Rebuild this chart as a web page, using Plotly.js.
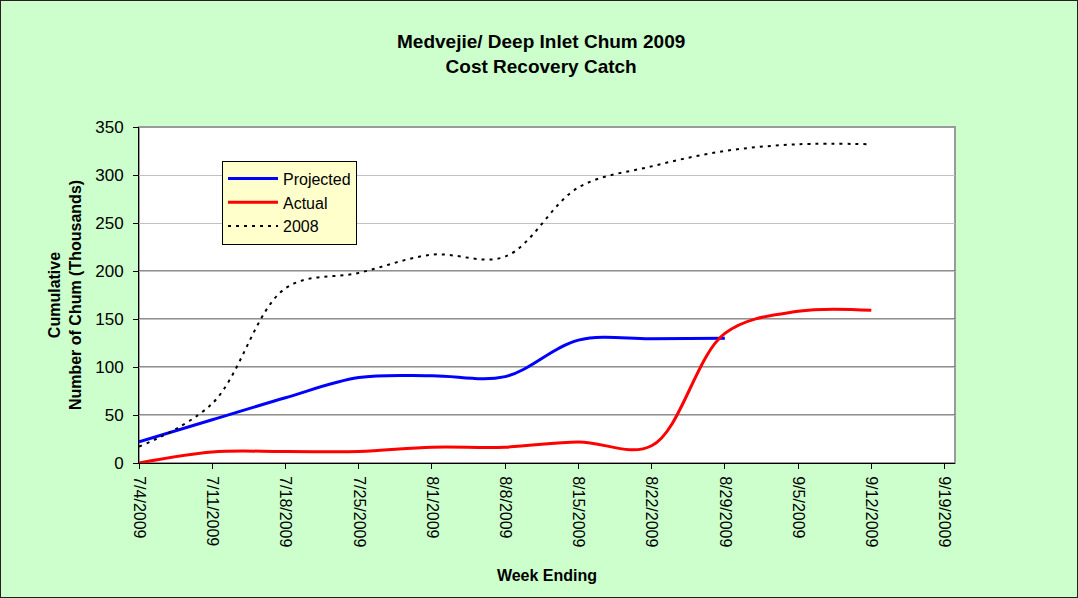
<!DOCTYPE html>
<html>
<head>
<meta charset="utf-8">
<script src="https://cdn.plot.ly/plotly-3.0.1.min.js"></script>
<style>
  html, body { margin: 0; padding: 0; background: #CCFFCC; }
  #wrap { position: relative; width: 1078px; height: 598px; }
  #chart { width: 1078px; height: 598px; }
  #frame { position: absolute; left: 0; top: 0; width: 1078px; height: 598px; box-sizing: border-box; border: 1px solid #222; pointer-events: none; }
</style>
</head>
<body>
<div id="wrap"><div id="chart"></div><div id="frame"></div></div>
<script>
// Week-ending dates
const weekEnding = ['2009-07-04','2009-07-11','2009-07-18','2009-07-25','2009-08-01','2009-08-08',
                    '2009-08-15','2009-08-22','2009-08-29','2009-09-05','2009-09-12'];
// Cumulative catch (thousands)
const projected = [22, 45, 68, 89, 91, 90, 128, 129.5, 130];
const actual    = [0, 11.5, 12, 12, 16.5, 16.5, 22, 18, 135, 158, 159];
const y2008     = [17, 62, 182, 198, 217, 215, 287, 309, 325, 332, 332];

const majorGrid = [50, 100, 150, 200];
const FONT = 'Liberation Sans, Arial, sans-serif';

const traces = [
  { x: weekEnding.slice(0, projected.length), y: projected, name: 'Projected', type: 'scatter', mode: 'lines',
    line: { color: '#0000FF', width: 3, shape: 'spline', smoothing: 1 } },
  { x: weekEnding.slice(0, actual.length), y: actual, name: 'Actual', type: 'scatter', mode: 'lines',
    line: { color: '#FF0000', width: 3, shape: 'spline', smoothing: 1 } },
  { x: weekEnding.slice(0, y2008.length), y: y2008, name: '2008', type: 'scatter', mode: 'lines',
    line: { color: '#000000', width: 2, dash: '3px,5px', shape: 'spline', smoothing: 1 } }
];

const shapes = [
  { type: 'rect', xref: 'paper', yref: 'paper', x0: 0, x1: 1, y0: 0, y1: 1,
    line: { color: '#9A9A9A', width: 2 }, layer: 'below' }
].concat(majorGrid.map(v => ({
  type: 'line', xref: 'paper', yref: 'y', x0: 0, x1: 1, y0: v, y1: v,
  line: { color: '#222222', width: 1 }, layer: 'below'
})));

const layout = {
  width: 1078, height: 598,
  paper_bgcolor: '#CCFFCC', plot_bgcolor: '#FFFFFF',
  margin: { l: 139, r: 123, t: 127, b: 135 },
  font: { family: FONT, color: '#000' },
  title: {
    text: 'Medvejie/ Deep Inlet Chum 2009<br>Cost Recovery Catch',
    font: { family: FONT, size: 19, weight: 700, color: '#000' },
    xref: 'container', x: 0.502, xanchor: 'center',
    yref: 'container', y: 0.92, yanchor: 'top'
  },
  xaxis: {
    type: 'date',
    range: ['2009-07-04', '2009-09-20'],
    tick0: '2009-07-04', dtick: 7 * 86400000,
    tickformat: '%-m/%-d/%Y', tickangle: 90,
    ticks: 'outside', ticklen: 5, tickcolor: '#000', tickwidth: 1,
    ticklabelstandoff: 4,
    showline: true, linecolor: '#000', linewidth: 1,
    showgrid: false, zeroline: false,
    tickfont: { family: FONT, size: 16, color: '#000' },
    title: { text: 'Week Ending', font: { family: FONT, size: 16, weight: 700, color: '#000' }, standoff: 23 }
  },
  yaxis: {
    range: [0, 350], dtick: 50, tick0: 0,
    ticks: 'outside', ticklen: 5, tickcolor: '#000', tickwidth: 1,
    ticklabelstandoff: 6,
    showline: true, linecolor: '#000', linewidth: 1,
    showgrid: true, gridcolor: '#C0C0C0', gridwidth: 1, zeroline: false,
    tickfont: { family: FONT, size: 17, color: '#000' },
    title: { text: 'Cumulative<br>Number of Chum (Thousands)', font: { family: FONT, size: 16, weight: 700, color: '#000' }, standoff: 9 }
  },
  legend: {
    x: 0.1017, y: 0.9, xanchor: 'left', yanchor: 'top',
    bgcolor: '#FFFFCC', bordercolor: '#000', borderwidth: 1,
    font: { family: FONT, size: 16, color: '#000' },
    itemwidth: 50, tracegroupgap: 0
  },
  shapes: shapes,
  showlegend: true
};

Plotly.newPlot('chart', traces, layout, { displayModeBar: false, staticPlot: true });
</script>
</body>
</html>
